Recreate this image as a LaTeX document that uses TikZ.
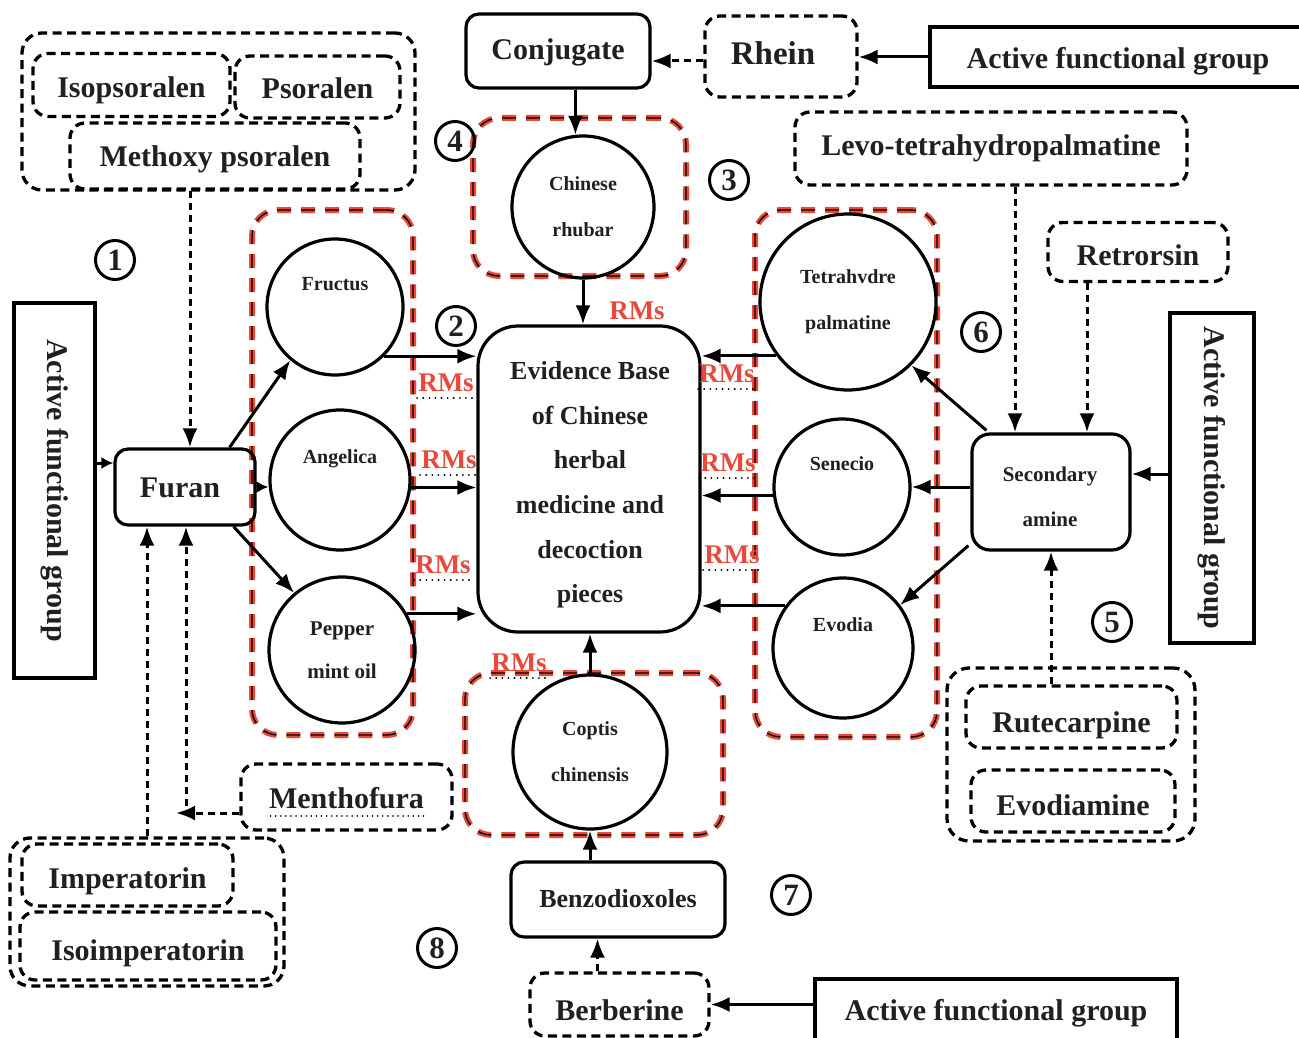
\documentclass[tikz,border=0pt]{standalone}
\usepackage{fontspec}
\usepackage{graphicx}
\setmainfont{Liberation Serif}
\usetikzlibrary{arrows.meta,calc}
\definecolor{txt}{HTML}{231F20}
\definecolor{rmred}{HTML}{E8493B}
\newcommand\myfs[2]{\fontsize{#1}{#2}\selectfont}
\newcommand\tl[2]{\raisebox{#1}[0.7em][0.2em]{#2}}
\begin{document}
\begin{tikzpicture}[x=1pt,y=-1pt,
  every node/.style={text=txt, inner sep=0pt},
  tx/.style={font=\bfseries\myfs{30}{36}},
  sbox/.style={draw, line width=3.2pt, rounded corners=13pt, tx},
  dbox/.style={draw, line width=3.3pt, dash pattern=on 9pt off 5.5pt, rounded corners=15pt, tx},
  pbox/.style={draw, line width=3.2pt, tx},
  herb/.style={circle, draw, line width=3.2pt, align=center, font=\bfseries\myfs{20}{46}},
  redbox/.style={draw=rmred, line width=6pt, dash pattern=on 14pt off 10pt, rounded corners=26pt,
     postaction={draw=black, line width=1.4pt, dash pattern=on 14pt off 10pt}},
  arr/.style={line width=3pt, -{Latex[length=19pt,width=15pt]}},
  arrs/.style={line width=3pt, -{Latex[length=12pt,width=12pt]}},
  darr/.style={arr, dash pattern=on 7pt off 5pt},
  num/.style={circle, draw, line width=3pt, minimum size=39pt, font=\bfseries\myfs{31}{31}},
  rms/.style={text=rmred, inner sep=1pt, font=\bfseries\myfs{27}{27}},
  dotl/.style={line width=2pt, dash pattern=on 0.1pt off 6pt, line cap=round}
]
\path[use as bounding box, fill=white] (0,0) rectangle (1299,1038);

% red group boxes
\node[redbox, minimum width=213pt, minimum height=158pt] (rb1) at (579.5,197) {};
\node[redbox, minimum width=161pt, minimum height=525pt] (rb2) at (332.5,472.5) {};
\node[redbox, minimum width=182pt, minimum height=527pt] (rb3) at (846,473.5) {};
\node[redbox, minimum width=258pt, minimum height=162pt] (rb4) at (594,754) {};

% top-left group
\node[dbox, minimum width=393pt, minimum height=157pt, rounded corners=20pt] (grp1) at (218.5,111.5) {};
\node[dbox, minimum width=197pt, minimum height=63pt] (iso) at (131.5,85) {\tl{-5.5pt}{Isopsoralen}};
\node[dbox, minimum width=165pt, minimum height=62pt] (pso) at (317.5,87) {\tl{-4.5pt}{Psoralen}};
\node[dbox, minimum width=290pt, minimum height=66pt] (meth) at (215,156) {\tl{-3.5pt}{Methoxy psoralen}};

% top
\node[sbox, minimum width=184pt, minimum height=74pt] (conj) at (558,51) {\tl{-1.5pt}{Conjugate}};
\node[dbox, minimum width=152pt, minimum height=81pt, font=\bfseries\myfs{33}{36}] (rhein) at (781,56.5) {\hspace*{-16pt}\tl{0pt}{Rhein}};
\node[pbox, minimum width=380pt, minimum height=60pt] (afgT) at (1120,57) {\hspace*{-4pt}\tl{-4.5pt}{Active functional group}};
\node[dbox, minimum width=392pt, minimum height=73pt] (levo) at (991,148.5) {\tl{0pt}{Levo-tetrahydropalmatine}};
\node[dbox, minimum width=180pt, minimum height=59pt] (retro) at (1138,252) {\tl{-5.5pt}{Retrorsin}};

% herbs
\node[herb, minimum size=142pt] (rhub) at (583,207) {Chinese\\rhubar};
\node[herb, minimum size=136pt] (fru) at (335,307) {Fructus\\\mbox{}};
\node[herb, minimum size=140pt] (ang) at (340,480) {Angelica\\\mbox{}};
\node[herb, minimum size=146pt, font=\bfseries\myfs{21}{43}] (pep) at (342,650) {Pepper\\mint oil};
\node[herb, minimum size=176pt] (tet) at (848,302) {Tetrahvdre\\palmatine};
\node[herb, minimum size=136pt] (sen) at (842,487) {Senecio\\\mbox{}};
\node[herb, minimum size=140pt] (evo) at (843,648) {Evodia\\\mbox{}};
\node[herb, minimum size=154pt] (copt) at (590,752) {Coptis\\chinensis};

% centre
\node[draw, line width=3.2pt, rounded corners=40pt, minimum width=222pt, minimum height=306pt] (evid) at (589,479) {};
\node[align=center, font=\bfseries\myfs{26}{44.6}] (evidt) at (590,485)
  {Evidence Base\\of Chinese\\herbal\\medicine and\\decoction\\pieces};

% right side
\node[draw, line width=3.2pt, rounded corners=18pt, minimum width=158pt, minimum height=116pt] (sec) at (1051,492) {};
\node[align=center, font=\bfseries\myfs{21}{45}] (sect) at (1050,497) {Secondary\\amine};
\node[pbox, minimum width=84pt, minimum height=330pt] (afgR) at (1212,478) {\rotatebox{-90}{Active functional group}};
\node[dbox, minimum width=248pt, minimum height=173pt, rounded corners=22pt] (rutg) at (1071,754.5) {};
\node[dbox, minimum width=211pt, minimum height=62pt] (rut) at (1071.5,717) {\tl{-7.5pt}{Rutecarpine}};
\node[dbox, minimum width=204pt, minimum height=62pt] (evd) at (1073,801) {\tl{-6.5pt}{Evodiamine}};

% left side
\node[pbox, minimum width=81pt, minimum height=375pt] (afgL) at (54.5,490.5) {\rotatebox{-90}{Active functional group}};
\node[sbox, minimum width=140pt, minimum height=76pt] (fur) at (185,487) {\hspace*{-10pt}\tl{-2.5pt}{Furan}};
\node[dbox, minimum width=211pt, minimum height=66pt] (menth) at (346.5,797) {\tl{-3.5pt}{Menthofura}};
\node[dbox, minimum width=274pt, minimum height=148pt, rounded corners=20pt] (impg) at (147,912) {};
\node[dbox, minimum width=211pt, minimum height=62pt] (imp) at (127.5,875) {\tl{-5.5pt}{Imperatorin}};
\node[dbox, minimum width=256pt, minimum height=68pt] (isoi) at (148,946) {\tl{-6.5pt}{Isoimperatorin}};

% bottom
\node[sbox, minimum width=214pt, minimum height=75pt, font=\bfseries\myfs{26}{30}] (benz) at (618,899.5) {\tl{-1pt}{Benzodioxoles}};
\node[dbox, minimum width=179pt, minimum height=63pt] (berb) at (619.5,1004.5) {\tl{-8pt}{Berberine}};
\node[pbox, minimum width=362pt, minimum height=66pt] (afgB) at (996,1012) {\tl{-0.5pt}{Active functional group}};

% circled numbers
\node[num] (n1) at (115,260) {1};
\node[num] (n2) at (456,326) {2};
\node[num] (n3) at (729,180) {3};
\node[num] (n4) at (455,141) {4};
\node[num] (n5) at (1112,622) {5};
\node[num] (n6) at (981,332) {6};
\node[num] (n7) at (791,895) {7};
\node[num] (n8) at (437,948) {8};

% RMs labels
\node[rms] (rmT) at (637,311) {RMs};
\node[rms] (rmL1) at (446,383) {RMs};
\node[rms] (rmL2) at (449,460) {RMs};
\node[rms] (rmL3) at (443,565) {RMs};
\node[rms] (rmR1) at (727,374) {RMs};
\node[rms] (rmR2) at (728,463) {RMs};
\node[rms] (rmR3) at (732,555) {RMs};
\node[rms] (rmB) at (519,663) {RMs};
\foreach \r in {rmL1,rmL2,rmL3,rmR1,rmR2,rmR3,rmB}
  \draw[dotl] ([yshift=-5pt]\r.south west) -- ([yshift=-5pt]\r.south east);
\draw[dotl, line width=1.6pt, dash pattern=on 0.1pt off 5pt] ([xshift=-76pt,yshift=-19pt]menth.center) -- ([xshift=82pt,yshift=-19pt]menth.center);

% connectors: left
\coordinate (furN) at ([xshift=5pt]fur.north);
\draw[darr] (meth.south -| furN) -- (furN);
\coordinate (furW) at ([yshift=24pt]fur.west);
\draw[arrs] (afgL.east |- furW) -- (furW);
\coordinate (furNE) at ([xshift=-27pt]fur.north east);
\draw[arr] (furNE) -- (fru.230);
\draw[arrs] (fur.east) -- (fur.east -| ang.west);
\coordinate (furSE) at ([xshift=-23pt]fur.south east);
\draw[arr] (furSE) -- (pep.130);
\coordinate (furS1) at ([xshift=-38pt]fur.south);
\draw[darr] (impg.north -| furS1) -- (furS1);
\coordinate (furS2) at ([xshift=1pt]fur.south);
\coordinate (mvert) at (186,806);
\draw[darr] (mvert) -- (furS2);
\coordinate (mtip) at (176,813);
\draw[darr] ([yshift=-16pt]menth.west) -- (mtip);

\draw[arr] (fru.-45) -- (fru.-45 -| evid.west);
\draw[arr] (ang.-6) -- (ang.-6 -| evid.west);
\draw[arr] (pep.29) -- (pep.29 -| evid.west);

% connectors: right
\draw[arr] (tet.217) -- (tet.217 -| evid.east);
\draw[arr] (sen.187) -- (sen.187 -| evid.east);
\draw[arr] (evo.144) -- (evo.144 -| evid.east);
\coordinate (secNW) at ([xshift=16pt,yshift=2pt]sec.north west);
\draw[arr] (secNW) -- (tet.-45);
\draw[arr] (sen.east -| sec.west) -- (sen.east);
\coordinate (secSW) at ([xshift=-2pt,yshift=6pt]sec.south west);
\draw[arr] (secSW) -- (evo.37);
\coordinate (secA) at ([xshift=-36pt]sec.north);
\draw[darr] (levo.south -| secA) -- (secA);
\coordinate (secB) at ([xshift=36pt]sec.north);
\draw[darr] (retro.south -| secB) -- (secB);
\coordinate (secE) at ([yshift=18pt]sec.east);
\draw[arr] (afgR.west |- secE) -- (secE);
\draw[darr] (rut.north -| sec.south) -- (sec.south);

% connectors: top
\draw[arr] (conj.south -| rhub.96) -- (rhub.96);
\draw[arr] (rhub.south) -- (rhub.south |- evid.north);
\coordinate (conjE) at ([yshift=-10pt]conj.east);
\draw[darr] (rhein.west |- conjE) -- (conjE);
\draw[arr] (afgT.west) -- (afgT.west -| rhein.east);

% connectors: bottom
\draw[arr] (copt.north) -- (copt.north |- evid.south);
\draw[arr] (benz.north -| copt.south) -- (copt.south);
\coordinate (berbN) at ([xshift=-22pt]berb.north);
\draw[darr] (berbN) -- (berbN |- benz.south);
\draw[arr] (afgB.west |- berb.east) -- (berb.east);
\end{tikzpicture}
\end{document}
